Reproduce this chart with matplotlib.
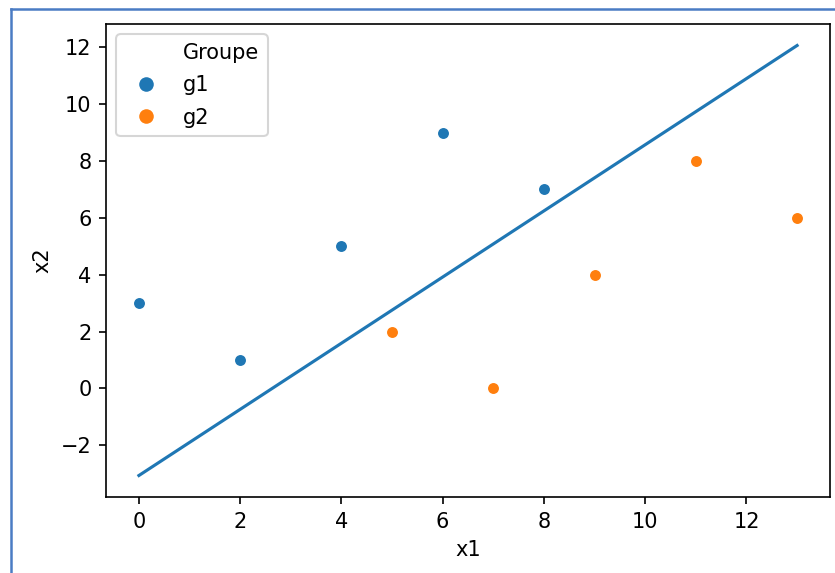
import numpy as np
import matplotlib.pyplot as plt
from matplotlib.lines import Line2D

# Données
g1_x1 = [0, 2, 4, 6, 8]
g1_x2 = [3, 1, 5, 9, 7]
g2_x1 = [5, 7, 9, 11, 13]
g2_x2 = [2, 0, 4, 8, 6]

# Droite de séparation (extrémités)
line_x1 = [0, 13]
line_x2 = [-3.07, 12.07]

W, H = 835, 573
dpi = 150
fig = plt.figure(figsize=(W / dpi, H / dpi), dpi=dpi)
ax = fig.add_axes([106 / W, 1 - 497 / H, (830 - 106) / W, (497 - 24) / H])

ax.scatter(g1_x1, g1_x2, color='#1f77b4', s=36, edgecolor='white', linewidth=0.75, zorder=3)
ax.scatter(g2_x1, g2_x2, color='#ff7f0e', s=36, edgecolor='white', linewidth=0.75, zorder=3)
ax.plot(line_x1, line_x2, color='#1f77b4', lw=1.5)

ax.set_xlabel('x1')
ax.set_ylabel('x2')
ax.set_xticks([0, 2, 4, 6, 8, 10, 12])
ax.set_yticks([-2, 0, 2, 4, 6, 8, 10, 12])

handles = [
    Line2D([], [], linestyle='none', marker=None),
    Line2D([], [], linestyle='none', marker='o', color='#1f77b4', markeredgecolor='white', markersize=8),
    Line2D([], [], linestyle='none', marker='o', color='#ff7f0e', markeredgecolor='white', markersize=8),
]
ax.legend(handles, ['Groupe', 'g1', 'g2'], loc='upper left', labelspacing=0.6)

# cadre bleu de la capture
border = '#4a7cc4'
fig.add_artist(Line2D([11 / W, 11 / W], [0, 1 - 9 / H], color=border, lw=1.2, transform=fig.transFigure))
fig.add_artist(Line2D([11 / W, 1], [1 - 9 / H, 1 - 9 / H], color=border, lw=1.2, transform=fig.transFigure))

fig.savefig('out.png', dpi=dpi)
